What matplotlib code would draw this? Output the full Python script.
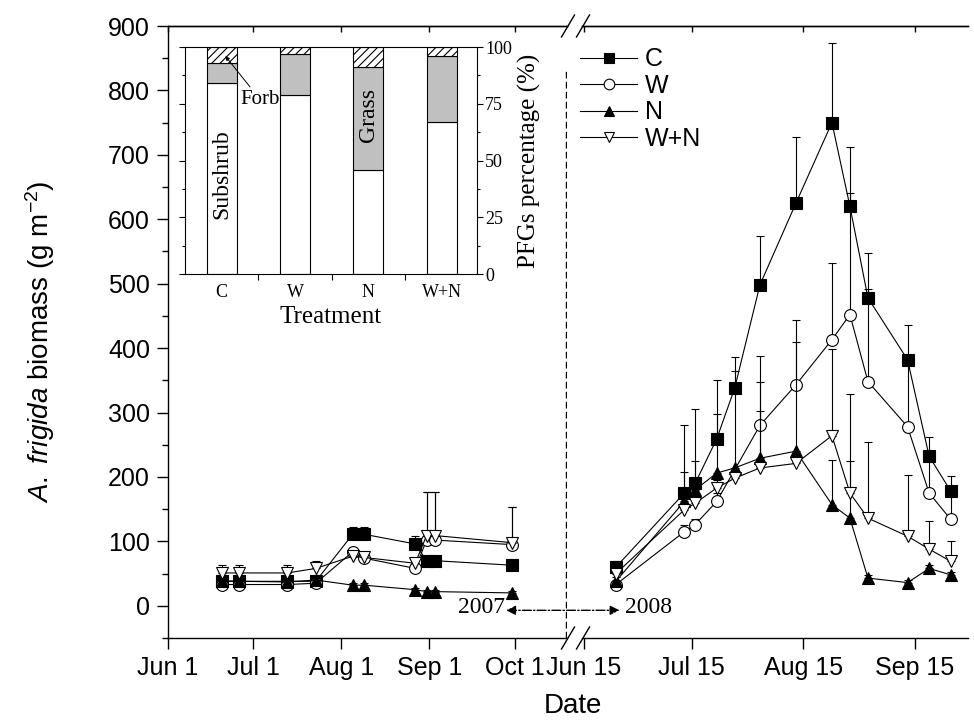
import numpy as np
import pandas as pd
import matplotlib
matplotlib.use("Agg")
import matplotlib.pyplot as plt
import matplotlib.dates as mdates
from matplotlib.lines import Line2D
from matplotlib.patches import ConnectionPatch
from matplotlib.ticker import MultipleLocator, FixedLocator

plt.rcParams['font.family'] = ['Liberation Sans', 'DejaVu Sans']
plt.rcParams['mathtext.fontset'] = 'custom'
plt.rcParams['mathtext.rm'] = 'Liberation Sans'
plt.rcParams['mathtext.it'] = 'Liberation Sans:italic'
plt.rcParams['hatch.linewidth'] = 0.8
SERIF = ['Liberation Serif', 'DejaVu Serif']

# ---- A. frigida biomass (g m-2): means and upper error ----
dates07 = pd.to_datetime(["2007-06-20", "2007-06-26", "2007-07-13", "2007-07-23", "2007-08-05",
                          "2007-08-09", "2007-08-27", "2007-08-31", "2007-09-03", "2007-09-30"])
C07 = [39, 38, 38, 38, 111, 111, 96, 70, 70, 63]
C07_se = [6, 7, 6, 6, 12, 12, 12, 6, 6, 5]
W07 = [33, 33, 33, 35, 84, 74, 58, 102, 102, 95]
W07_se = [4, 4, 4, 5, 4, 6, 5, 75, 75, 59]
N07 = [38, 38, 37, 40, 32, 32, 25, 22, 22, 20]
N07_se = [3, 3, 3, 4, 3, 3, 3, 3, 3, 3]
WN07 = [51, 51, 51, 58, 77, 75, 66, 109, 109, 98]
WN07_se = [13, 13, 13, 12, 7, 7, 6, 68, 68, 56]

dates08 = pd.to_datetime(["2008-06-24", "2008-07-13", "2008-07-16", "2008-07-22", "2008-07-27",
                          "2008-08-03", "2008-08-13", "2008-08-23", "2008-08-28", "2008-09-02",
                          "2008-09-13", "2008-09-19", "2008-09-25"])
C08 = [60, 175, 190, 259, 338, 498, 625, 750, 620, 478, 382, 232, 178]
C08_se = [10, 105, 115, 92, 48, 76, 102, 123, 92, 69, 54, 30, 23]
W08_dates = dates08.delete(4)   # no W point on Jul 27
W08 = [33, 115, 126, 162, 280, 343, 413, 452, 348, 278, 175, 134]
W08_se = [3, 10, 9, 13, 108, 100, 119, 188, 144, 107, 65, 41]
N08 = [38, 162, 180, 206, 214, 229, 240, 157, 136, 43, 36, 58, 48]
N08_se = [7, 46, 44, 92, 150, 118, 169, 70, 89, 5, 4, 6, 4]
WN08 = [50, 149, 159, 183, 198, 214, 221, 264, 175, 136, 108, 88, 69]
WN08_se = [5, 11, 11, 12, 12, 89, 9, 135, 154, 118, 95, 43, 32]

# ---- inset: PFGs percentage ----
treatments = ["C", "W", "N", "W+N"]
subshrub = [84, 79, 46, 67]
grass = [9, 18, 45, 29]
forb = [7, 3, 9, 4]


def series(ax, d, y, se, marker, face, z, label):
    ax.errorbar(d, y, yerr=[np.zeros(len(se)), se], fmt='none', ecolor='k',
                elinewidth=0.8, capsize=2.8, capthick=0.8, zorder=z)
    ln, = ax.plot(d, y, color='k', lw=0.8, marker=marker, ms=8.5, mfc=face,
                  mec='k', mew=0.8, zorder=z + 0.5, label=label)
    return ln


W_, H_ = 974, 721
fig = plt.figure(figsize=(9.74, 7.21), dpi=100)
bot = 1 - 638 / H_
hgt = (638 - 26) / H_
ax1 = fig.add_axes([168 / W_, bot, (567 - 168) / W_, hgt])
ax2 = fig.add_axes([582 / W_, bot, (968 - 582) / W_, hgt], sharey=ax1)
for a in (ax1, ax2):
    a.patch.set_visible(False)

styles = [("C", 's', 'k'), ("W", 'o', 'w'), ("N", '^', 'k'), ("W+N", 'v', 'w')]
d07 = [dates07, dates07, dates07, dates07]
y07 = [(C07, C07_se), (W07, W07_se), (N07, N07_se), (WN07, WN07_se)]
d08 = [dates08, W08_dates, dates08, dates08]
y08 = [(C08, C08_se), (W08, W08_se), (N08, N08_se), (WN08, WN08_se)]

handles = []
for i, (lab, mk, fc) in enumerate(styles):
    series(ax1, d07[i], y07[i][0], y07[i][1], mk, fc, 3 + i, lab)
    handles.append(series(ax2, d08[i], y08[i][0], y08[i][1], mk, fc, 3 + i, lab))

ax1.set_xlim(pd.Timestamp("2007-06-01"), pd.Timestamp("2007-10-19 10:00"))
ax2.set_xlim(pd.Timestamp("2008-06-14 14:00"), pd.Timestamp("2008-09-29 19:00"))
ax1.set_ylim(-50, 900)
ax1.yaxis.set_major_locator(MultipleLocator(100))
ax1.yaxis.set_minor_locator(MultipleLocator(50))

t1 = pd.to_datetime(["2007-06-01", "2007-07-01", "2007-08-01", "2007-09-01", "2007-10-01"])
t2 = pd.to_datetime(["2008-06-15", "2008-07-15", "2008-08-15", "2008-09-15"])
ax1.set_xticks(t1)
ax1.set_xticklabels([f"{d:%b} {d.day}" for d in t1])
ax2.set_xticks(t2)
ax2.set_xticklabels([f"{d:%b} {d.day}" for d in t2])

for a in (ax1, ax2):
    a.spines['right'].set_visible(False)
    for s in a.spines.values():
        s.set_linewidth(1.0)
    a.tick_params(axis='x', direction='out', length=8, width=1, labelsize=18, pad=5)
    sec = a.secondary_xaxis('top')
    sec.set_xticks(a.get_xticks())
    sec.tick_params(direction='in', length=4, width=1, labeltop=False)
    sec.spines['top'].set_linewidth(1.0)
ax2.spines['left'].set_visible(False)
ax2.tick_params(axis='y', which='both', left=False, labelleft=False)
ax1.tick_params(axis='y', which='major', direction='out', length=8, width=1, labelsize=18, pad=5)
ax1.tick_params(axis='y', which='minor', direction='out', length=4.5, width=1)

fig.text(40 / W_, 1 - 342 / H_, r"$\it{A.\ frigida}$ biomass (g m$^{-2}$)",
         rotation=90, ha='center', va='center', fontsize=20)
fig.text(573 / W_, 1 - 706 / H_, "Date", ha='center', va='center', fontsize=20)

# separator between the two seasons
x_sep = pd.Timestamp("2007-10-19")
ax1.plot([x_sep, x_sep], [-50, 830], color='k', lw=1, dashes=(4.8, 2.4), zorder=2)

# 2007 <-> 2008 arrow
ya = -7
con = ConnectionPatch(xyA=(mdates.date2num(pd.Timestamp("2007-09-28")), ya), coordsA=ax1.transData,
                      xyB=(mdates.date2num(pd.Timestamp("2008-06-25")), ya), coordsB=ax2.transData,
                      arrowstyle='<|-|>', linestyle='-.', color='k', lw=1, mutation_scale=14,
                      shrinkA=0, shrinkB=0)
fig.add_artist(con)
ax1.text(pd.Timestamp("2007-09-27 12:00"), -3, "2007", ha='right', va='center',
         fontsize=17, family=SERIF)
ax2.text(pd.Timestamp("2008-06-26 12:00"), -3, "2008", ha='left', va='center',
         fontsize=17, family=SERIF)

# axis-break marks
for cy in (26, 638):
    for cx in (568, 583):
        fig.add_artist(Line2D([(cx - 6.5) / W_, (cx + 6.5) / W_],
                              [1 - (cy + 11) / H_, 1 - (cy - 11) / H_],
                              color='k', lw=1.0, transform=fig.transFigure))

leg = ax2.legend(handles=handles, loc='upper left', bbox_to_anchor=(-0.005, 0.965),
                 frameon=False, fontsize=18, handlelength=2.28, handletextpad=0.32,
                 labelspacing=0.1, borderpad=0, borderaxespad=0, markerscale=0.9)

# ---- inset ----
axi = fig.add_axes([185 / W_, 1 - 274 / H_, (477 - 185) / W_, (274 - 47) / H_])
xpos = np.arange(len(treatments))
bw = 0.41
axi.bar(xpos, subshrub, bw, color='w', edgecolor='k', lw=0.8)
axi.bar(xpos, grass, bw, bottom=subshrub, color='#c0c0c0', edgecolor='k', lw=0.8)
axi.bar(xpos, forb, bw, bottom=np.add(subshrub, grass), color='w', edgecolor='k',
        lw=0.8, hatch='////')
axi.set_xlim(-0.5, 3.48)
axi.set_ylim(0, 100)
axi.set_xticks(xpos)
axi.set_xticklabels(treatments, family=SERIF, fontsize=13)
axi.xaxis.set_minor_locator(FixedLocator([0.5, 1.5, 2.5]))
axi.tick_params(axis='x', which='major', length=0, pad=7)
axi.tick_params(axis='x', which='minor', direction='out', length=4, width=0.8)
axi.yaxis.tick_right()
axi.yaxis.set_label_position('right')
axi.set_yticks([0, 25, 50, 75, 100])
axi.yaxis.set_minor_locator(MultipleLocator(12.5))
axi.tick_params(axis='y', which='both', left=True, right=True, direction='out', width=0.8)
axi.tick_params(axis='y', which='major', length=4, labelsize=13, pad=2)
axi.tick_params(axis='y', which='minor', length=2.5)
for lab in axi.get_yticklabels():
    lab.set_family(SERIF)
for s in axi.spines.values():
    s.set_linewidth(0.8)
axi.set_xlabel("Treatment", family=SERIF, fontsize=18, labelpad=4)
axi.set_ylabel("PFGs percentage (%)", family=SERIF, fontsize=18, labelpad=4)
axi.text(0, 44, "Subshrub", rotation=90, ha='center', va='center', family=SERIF, fontsize=17)
axi.text(2, 70, "Grass", rotation=90, ha='center', va='center', family=SERIF, fontsize=17)
axi.annotate("Forb", xy=(0.05, 96), xytext=(0.52, 77), ha='center', va='center',
             family=SERIF, fontsize=15,
             arrowprops=dict(arrowstyle='-|>', lw=0.7, color='k', mutation_scale=6,
                             shrinkA=0, shrinkB=0))

fig.savefig("out.png", dpi=100)
